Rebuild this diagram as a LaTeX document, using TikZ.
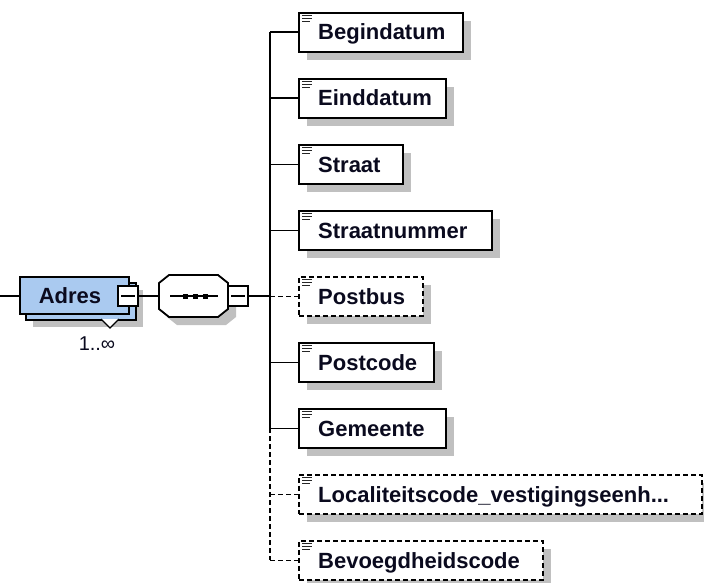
\documentclass[tikz,border=0pt]{standalone}
\usepackage{fontspec}
\setmainfont{Liberation Sans}
\usetikzlibrary{shadows}
\definecolor{shadowgray}{RGB}{192,192,192}
\definecolor{adresblue}{RGB}{170,202,240}
\definecolor{txt}{RGB}{10,10,30}
\newcommand{\loclabel}{Localiteitscode\_vestigingseenh...}
\begin{document}
\begin{tikzpicture}[x=1pt,y=-1pt,
  elembox/.style={draw=black, line width=1.9pt, fill=white, rectangle, inner sep=0pt,
    minimum height=39pt, anchor=north west,
    general shadow={fill=shadowgray, shadow xshift=8pt, shadow yshift=-8pt}},
  optbox/.style={elembox, dash pattern=on 5pt off 3pt},
  elemtext/.style={anchor=base west, inner sep=0pt, font=\fontsize{22}{26}\selectfont\bfseries, text=txt},
  conn/.style={line width=1.9pt},
  optconn/.style={conn, dash pattern=on 5pt off 3pt},
  minusbox/.style={draw, line width=1.8pt, fill=white, minimum size=20pt, inner sep=0pt},
  icon/.style={line width=1.4pt, draw=black!85},
  adresbox/.style={draw=black, line width=1.8pt, fill=adresblue, rectangle, inner sep=0pt,
    minimum width=110pt, minimum height=37pt, anchor=north west}
]
\useasboundingbox (0,0) rectangle (704,583);

% ---------- element boxes ----------
\foreach \n/\t/\r/\lab/\st in {
  e1/12/462/Begindatum/elembox,
  e2/78/445/Einddatum/elembox,
  e3/144/402/Straat/elembox,
  e4/210/491/Straatnummer/elembox,
  e5/276/422/Postbus/optbox,
  e6/342/433/Postcode/elembox,
  e7/408/445/Gemeente/elembox,
  e8/474/701/\loclabel/optbox,
  e9/540/542/Bevoegdheidscode/optbox}{
  \node[\st, minimum width={\r-298}] (\n) at (298,\t) {};
  \draw[icon] ([xshift=4pt,yshift=-3.5pt]\n.north west) -- ++(10,0);
  \draw[icon] ([xshift=4pt,yshift=-6.5pt]\n.north west) -- ++(10,0);
  \draw[icon] ([xshift=4pt,yshift=-9.5pt]\n.north west) -- ++(8,0);
  \node[elemtext] (\n-t) at (318,\t+28) {\lab};
}

% ---------- trunk and branches ----------
\coordinate (tr) at (270,0);
\draw[conn] (e1.west -| tr) -- (e7.west -| tr);
\draw[optconn] (e7.west -| tr) -- (e9.west -| tr);
\foreach \n in {e1,e2,e3,e4,e6,e7}{
  \draw[conn] (\n.west -| tr) -- (\n.west);
}
\foreach \n in {e5,e8,e9}{
  \draw[optconn] (\n.west -| tr) -- (\n.west);
}

% ---------- sequence compositor ----------
\node[minimum width=69pt, minimum height=42pt, inner sep=0pt] (seq) at (193.5,296) {};
\fill[shadowgray, shift={(8,8)}]
  (169,275) -- (218,275) -- (228,283) -- (228,309) -- (218,317) -- (169,317) -- (159,309) -- (159,283) -- cycle;
\draw[line width=1.8pt, fill=white]
  (169,275) -- (218,275) -- (228,283) -- (228,309) -- (218,317) -- (169,317) -- (159,309) -- (159,283) -- cycle;
\coordinate (sl) at (170,296);
\coordinate (sr) at (218,296);
\draw[line width=1.5pt] (sl) -- (sr);
\foreach \x in {185,195,205}{
  \fill (\x-2.5,293.5) rectangle (\x+2.5,298.5);
}
\node[minusbox] (smin) at (238,296) {};
\draw[line width=1.5pt] ([xshift=4pt]smin.west) -- ([xshift=-4pt]smin.east);
\draw[conn] (smin.east) -- (smin.east -| tr);

% ---------- Adres ----------
\node[adresbox, minimum width=110pt, minimum height=37pt,
  general shadow={fill=shadowgray, shadow xshift=7pt, shadow yshift=-7pt}] (adresback) at (25,282) {};
\fill[white] (101,319) -- (119,319) -- (110,328) -- cycle;
\draw[line width=1.2pt] (101,319) -- (110,328) -- (119,319);
\node[adresbox, minimum width=109pt] (adres) at (19,276) {};
\node[anchor=base, inner sep=0pt, font=\fontsize{22}{26}\selectfont\bfseries, text=txt] (adres-t) at (70,303) {Adres};
\node[minusbox] (amin) at (128,296) {};
\draw[line width=1.5pt] ([xshift=4pt]amin.west) -- ([xshift=-4pt]amin.east);
\node[anchor=base, inner sep=0pt, font=\fontsize{20}{23}\selectfont, text=txt] (card) at (97,350) {1..∞};

\coordinate (lstart) at (0,296);
\draw[conn] (lstart) -- (adres.west |- lstart);
\draw[conn] (amin.east) -- (seq.west);
\end{tikzpicture}
\end{document}
